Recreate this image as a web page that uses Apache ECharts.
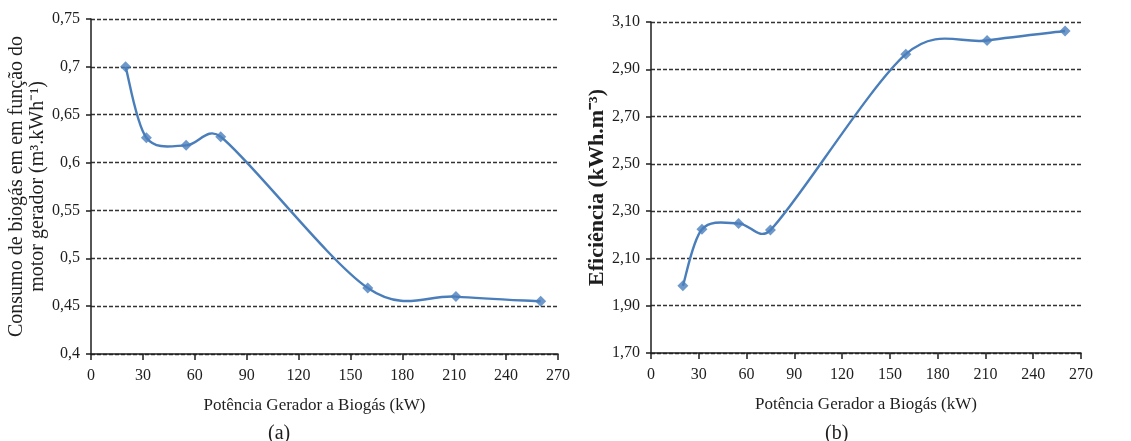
<!DOCTYPE html>
<html>
<head>
<meta charset="utf-8">
<script src="https://cdn.jsdelivr.net/npm/echarts@6/dist/echarts.min.js"></script>
<style>
    html, body { margin: 0; padding: 0; background: #ffffff; }
    #chart { width: 1131px; height: 441px; }
</style>
</head>
<body>
<div id="chart"></div>
<script>
// potência do gerador (kW)
const potencia = [20, 32, 55, 75, 160, 211, 260];
// (a) consumo de biogás (m3/kWh)
const consumo = [0.700, 0.626, 0.618, 0.627, 0.469, 0.460, 0.455];
// (b) eficiência (kWh/m3)
const eficiencia = [1.984, 2.223, 2.248, 2.220, 2.964, 3.022, 3.062];

const font = 'Liberation Serif';
const blue = '#4a7ebb';
const ink = '#1e1e1e';

const pairs = (xs, ys) => xs.map((x, i) => [x, ys[i]]);

const fmt = (decimals, trim) => function (v) {
    let s = (Math.round(v * 100) / 100).toFixed(decimals);
    if (trim) s = String(parseFloat(s));
    return s.replace('.', ',');
};

const xAxis = function (grid, pad) {
    return {
        type: 'value',
        gridIndex: grid,
        min: 0,
        max: 270,
        interval: 30,
        name: 'Potência Gerador a Biogás (kW)',
        nameLocation: 'middle',
        nameGap: 43,
        nameTextStyle: {fontFamily: font, fontSize: 17, color: ink, padding: pad},
        axisLine: {lineStyle: {color: ink, width: 1.5}},
        axisTick: {show: true, length: 6, lineStyle: {color: ink, width: 1.5}},
        axisLabel: {fontFamily: font, fontSize: 16, color: ink, margin: 14},
        splitLine: {show: false}
    };
};

const yAxis = function (grid, min, max, step, label, name, gap, size, weight) {
    return {
        type: 'value',
        gridIndex: grid,
        min: min,
        max: max,
        interval: step,
        name: name,
        nameLocation: 'middle',
        nameGap: gap,
        nameTextStyle: {fontFamily: font, fontSize: size, fontWeight: weight, color: ink, lineHeight: 21},
        axisLine: {show: true, lineStyle: {color: ink, width: 1.5}},
        axisTick: {show: true, length: 5, lineStyle: {color: ink, width: 1.5}},
        axisLabel: {fontFamily: font, fontSize: 16, color: ink, margin: 11, formatter: label},
        splitLine: {show: true, lineStyle: {color: '#333', width: 1.3, type: [4, 2]}}
    };
};

// spreadsheet-style smoothing: cubic bezier through the points,
// arms (P(i+1) - P(i-1)) / 6, capped at half of the segment
const arm = function (a, b, seg) {
    let dx = (b[0] - a[0]) / 6, dy = (b[1] - a[1]) / 6;
    const len = Math.hypot(dx, dy);
    if (len > seg / 2 && len > 0) {
        dx *= seg / 2 / len;
        dy *= seg / 2 / len;
    }
    return [dx, dy];
};

const curve = function (idx, xs, ys) {
    return {
        type: 'custom',
        coordinateSystem: 'cartesian2d',
        xAxisIndex: idx,
        yAxisIndex: idx,
        data: pairs(xs, ys),
        encode: {x: 0, y: 1},
        z: 4,
        renderItem: function (params, api) {
            const i = params.dataIndex;
            const n = xs.length;
            if (i >= n - 1) return null;
            const p = j => {
                const k = Math.max(0, Math.min(n - 1, j));
                return api.coord([xs[k], ys[k]]);
            };
            const p0 = p(i - 1), p1 = p(i), p2 = p(i + 1), p3 = p(i + 2);
            const seg = Math.hypot(p2[0] - p1[0], p2[1] - p1[1]);
            const a1 = arm(p0, p2, seg), a2 = arm(p1, p3, seg);
            return {
                type: 'bezierCurve',
                shape: {
                    x1: p1[0], y1: p1[1],
                    x2: p2[0], y2: p2[1],
                    cpx1: p1[0] + a1[0], cpy1: p1[1] + a1[1],
                    cpx2: p2[0] - a2[0], cpy2: p2[1] - a2[1]
                },
                style: {stroke: blue, lineWidth: 2.4, fill: null}
            };
        }
    };
};

const markers = function (idx, xs, ys) {
    return {
        type: 'scatter',
        xAxisIndex: idx,
        yAxisIndex: idx,
        data: pairs(xs, ys),
        symbol: 'diamond',
        symbolSize: 11,
        itemStyle: {color: blue},
        z: 5
    };
};

const chart = echarts.init(document.getElementById('chart'));
chart.setOption({
    animation: false,
    backgroundColor: '#ffffff',
    title: [
        {text: '(a)', left: 263, top: 419, textStyle: {fontFamily: font, fontSize: 20, fontWeight: 'normal', color: ink}},
        {text: '(b)', left: 820, top: 419, textStyle: {fontFamily: font, fontSize: 20, fontWeight: 'normal', color: ink}}
    ],
    grid: [
        {left: 91, top: 19, width: 467, height: 335, outerBoundsMode: 'none'},
        {left: 651, top: 22, width: 430, height: 331, outerBoundsMode: 'none'}
    ],
    xAxis: [xAxis(0, [0, 20, 0, 0]), xAxis(1, 0)],
    yAxis: [
        yAxis(0, 0.4, 0.75, 0.05, fmt(2, true),
            'Consumo de biogás em em função do\nmotor gerador (m³.kWh⁻¹)', 37, 20, 'normal'),
        yAxis(1, 1.7, 3.1, 0.2, fmt(2, false),
            'Eficiência (kWh.m⁻³)', 38, 22, 'bold')
    ],
    series: [
        curve(0, potencia, consumo),
        markers(0, potencia, consumo),
        curve(1, potencia, eficiencia),
        markers(1, potencia, eficiencia)
    ]
});
</script>
</body>
</html>
